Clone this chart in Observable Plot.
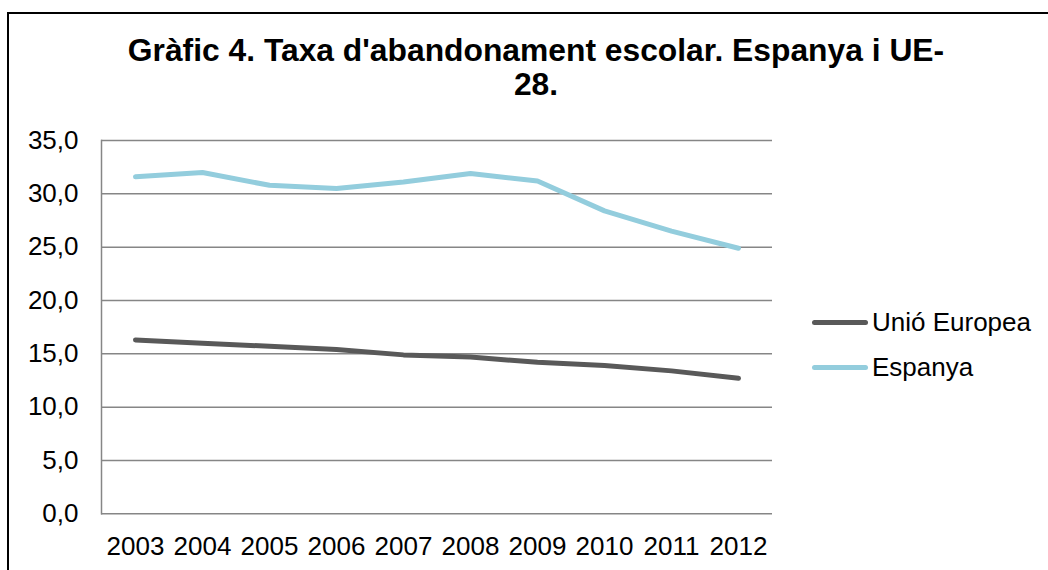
<!DOCTYPE html>
<html><head><meta charset="utf-8">
<script src="https://cdn.jsdelivr.net/npm/d3@7"></script>
<script src="https://cdn.jsdelivr.net/npm/@observablehq/plot@0.6"></script>
<style>
body{margin:0;background:#fff;font-family:"Liberation Sans",Arial,sans-serif;}
#wrap{position:relative;width:1048px;height:570px;overflow:hidden;background:#fff;}
#frame{position:absolute;left:7px;top:12px;width:1100px;height:620px;border:2px solid #000;box-sizing:border-box;}
#title{position:absolute;left:0;width:1072px;top:33px;text-align:center;font-weight:bold;font-size:31.8px;line-height:34px;color:#000;}
#chart{position:absolute;left:0;top:0;}
#legend{position:absolute;left:812px;top:300px;font-size:26px;color:#000;}
#legend .item{display:flex;align-items:center;height:45px;}
#legend .sw{width:56px;height:5px;border-radius:3px;margin-right:4px;}
</style></head>
<body>
<div id="wrap">
  <div id="frame"></div>
  <div id="title"></div>
  <div id="chart"></div>
  <div id="legend"></div>
</div>
<script>
const titleLines = ["Gràfic 4. Taxa d'abandonament escolar. Espanya i UE-", "28."];
const years = ["2003","2004","2005","2006","2007","2008","2009","2010","2011","2012"];
const seriesNames = ["Unió Europea", "Espanya"];
const seriesColors = ["#595959", "#93CDDD"];
const euValues = [16.3, 16.0, 15.7, 15.4, 14.9, 14.7, 14.2, 13.9, 13.4, 12.7];
const esValues = [31.6, 32.0, 30.8, 30.5, 31.1, 31.9, 31.2, 28.4, 26.5, 24.9];
const yTicks = [0, 5, 10, 15, 20, 25, 30, 35];

document.getElementById("title").innerHTML = titleLines.join("<br>");

const data = [];
years.forEach((y, i) => {
  data.push({year: y, value: euValues[i], series: seriesNames[0]});
  data.push({year: y, value: esValues[i], series: seriesNames[1]});
});

const fmt = d => d.toFixed(1).replace(".", ",");

const chart = Plot.plot({
  width: 1048,
  height: 570,
  marginLeft: 101,
  marginRight: 276,
  marginTop: 140,
  marginBottom: 56.7,
  style: {fontSize: "26px", fontFamily: "'Liberation Sans', Arial, sans-serif", color: "#000", background: "transparent", overflow: "visible"},
  x: {type: "point", domain: years, padding: 0.5, tickSize: 0, tickPadding: 23, label: null},
  y: {domain: [0, 35], ticks: yTicks, tickSize: 0, tickPadding: 23, tickFormat: fmt, label: null},
  color: {domain: seriesNames, range: seriesColors},
  marks: [
    Plot.ruleY(yTicks, {stroke: "#868686", strokeWidth: 1.5}),
    Plot.frame({anchor: "left", stroke: "#868686", strokeWidth: 1.5}),
    Plot.line(data, {x: "year", y: "value", z: "series", stroke: "series", strokeWidth: 5, strokeLinecap: "round", strokeLinejoin: "round"})
  ]
});
document.getElementById("chart").appendChild(chart);

const legend = document.getElementById("legend");
seriesNames.forEach((n, i) => {
  const item = document.createElement("div");
  item.className = "item";
  item.innerHTML = `<div class="sw" style="background:${seriesColors[i]}"></div><span>${n}</span>`;
  legend.appendChild(item);
});
</script>
</body></html>
